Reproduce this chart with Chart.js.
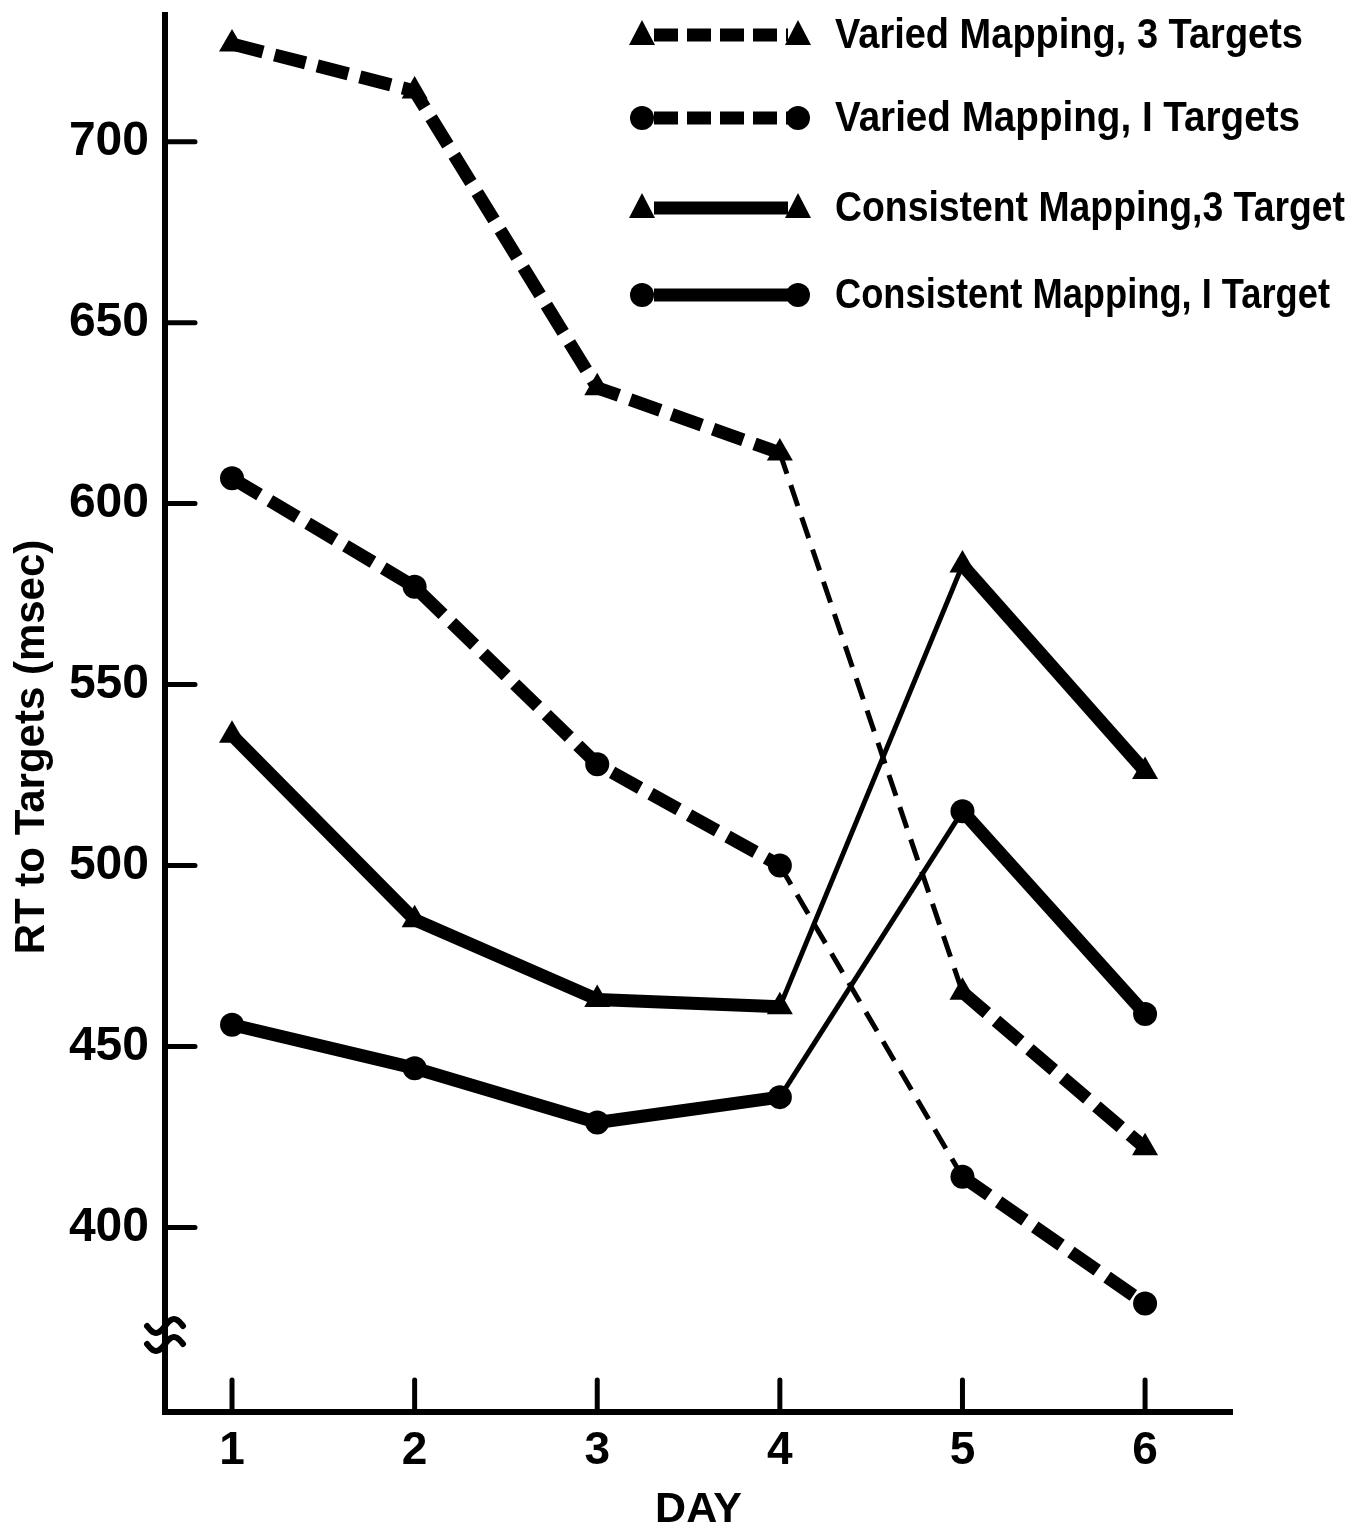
<!DOCTYPE html>
<html>
<head>
<meta charset="utf-8">
<script src="https://cdn.jsdelivr.net/npm/chart.js@4.4.1/dist/chart.umd.min.js"></script>
<style>
  html, body { margin: 0; padding: 0; background: #fff; }
  #wrap { width: 1365px; height: 1533px; }
</style>
</head>
<body>
<div id="wrap"><canvas id="rtChart"></canvas></div>
<script>
// Days on the x axis
const days = [1, 2, 3, 4, 5, 6];
const yTicks = [400, 450, 500, 550, 600, 650, 700];

// RT to targets (msec)
const variedThree = [727, 714, 632, 614, 465, 422];
const variedOne = [607, 577, 528, 500, 414, 379];
const consistentThree = [536, 485, 463, 461, 583, 526];
const consistentOne = [456, 444, 429, 436, 515, 459];

const seriesLabels = [
    "Varied Mapping, 3 Targets",
    "Varied Mapping, I Targets",
    "Consistent Mapping,3 Target",
    "Consistent Mapping, I Target",
];

const INK = "#000";
const THICK = 13;
const THIN = 5;
const FONT = "'Liberation Sans', Arial, sans-serif";

// segment between day 4 and day 5 is drawn thin
const thinSeg = (ctx) => ctx.p0DataIndex === 3;

function makeSet(label, values, dashed, shape) {
    return {
        label: label,
        data: days.map((d, i) => ({ x: d, y: values[i] })),
        borderColor: INK,
        backgroundColor: INK,
        borderWidth: THICK,
        borderDash: dashed ? [32, 12] : [],
        borderCapStyle: "butt",
        borderJoinStyle: "round",
        pointStyle: shape,
        pointRadius: shape === "triangle" ? 15 : 12,
        pointBorderWidth: 0,
        pointBackgroundColor: INK,
        tension: 0,
        fill: false,
        _dashed: dashed,
        segment: {
            borderWidth: (ctx) => (thinSeg(ctx) ? THIN : THICK),
            borderDash: (ctx) => (dashed ? (thinSeg(ctx) ? [22, 12] : [32, 12]) : []),
        },
    };
}

const datasets = [
    makeSet(seriesLabels[0], variedThree, true, "triangle"),
    makeSet(seriesLabels[1], variedOne, true, "circle"),
    makeSet(seriesLabels[2], consistentThree, false, "triangle"),
    makeSet(seriesLabels[3], consistentOne, false, "circle"),
];

// Draws inside ticks, the axis break, titles and the legend
const decorations = {
    id: "decorations",
    afterDraw(chart) {
        const { ctx, chartArea, scales } = chart;
        const x = scales.x, y = scales.y;
        ctx.save();
        ctx.strokeStyle = INK;
        ctx.fillStyle = INK;
        ctx.lineCap = "round";
        ctx.lineWidth = 5;

        // inward tick marks
        yTicks.forEach((v) => {
            const py = y.getPixelForValue(v);
            ctx.beginPath();
            ctx.moveTo(chartArea.left, py);
            ctx.lineTo(chartArea.left + 30, py);
            ctx.stroke();
        });
        days.forEach((d) => {
            const px = x.getPixelForValue(d);
            ctx.beginPath();
            ctx.moveTo(px, chartArea.bottom);
            ctx.lineTo(px, chartArea.bottom - 32);
            ctx.stroke();
        });

        // axis break squiggle
        const bx = chartArea.left;
        ctx.lineWidth = 6;
        [1326, 1344].forEach((cy) => {
            ctx.beginPath();
            for (let t = -18; t <= 18; t++) {
                const px = bx + t;
                const py = cy - 7 * Math.sin((t / 18) * Math.PI);
                if (t === -18) ctx.moveTo(px, py); else ctx.lineTo(px, py);
            }
            ctx.stroke();
        });

        // axis titles
        ctx.font = "bold 43px " + FONT;
        ctx.textAlign = "center";
        ctx.textBaseline = "middle";
        ctx.fillText("DAY", (chartArea.left + chartArea.right) / 2, 1510);
        ctx.font = "bold 42px " + FONT;
        ctx.save();
        ctx.translate(32, 747);
        ctx.rotate(-Math.PI / 2);
        ctx.fillText("RT to Targets (msec)", 0, 0);
        ctx.restore();

        // legend
        const rowsY = [35, 118, 208, 295];
        const textW = [468, 465, 510, 495];
        const x0 = 642, x1 = 798;
        chart.data.datasets.forEach((ds, i) => {
            const ly = rowsY[i];
            ctx.lineWidth = THICK;
            ctx.lineCap = "butt";
            ctx.setLineDash(ds._dashed ? [24, 9] : []);
            ctx.beginPath();
            ctx.moveTo(x0 + 12, ly);
            ctx.lineTo(x1 - 10, ly);
            ctx.stroke();
            ctx.setLineDash([]);
            [x0, x1].forEach((mx) => {
                ctx.beginPath();
                if (ds.pointStyle === "triangle") {
                    ctx.moveTo(mx, ly - 15);
                    ctx.lineTo(mx + 13, ly + 10);
                    ctx.lineTo(mx - 13, ly + 10);
                    ctx.closePath();
                } else {
                    ctx.arc(mx, ly, 12, 0, Math.PI * 2);
                }
                ctx.fill();
            });
            ctx.font = "bold 42px " + FONT;
            ctx.textAlign = "left";
            ctx.textBaseline = "middle";
            ctx.fillText(ds.label, 835, ly + 1, textW[i]);
        });
        ctx.restore();
    },
};

document.addEventListener("DOMContentLoaded", () => {
    const ctx = document.getElementById("rtChart").getContext("2d");
    new Chart(ctx, {
        type: "line",
        data: { datasets: datasets },
        options: {
            responsive: true,
            maintainAspectRatio: false,
            animation: false,
            layout: { padding: { top: 12, right: 133, left: 0, bottom: 0 } },
            scales: {
                x: {
                    type: "linear",
                    min: 0.633,
                    max: 6.476,
                    afterBuildTicks: (scale) => {
                        scale.ticks = days.map((d) => ({ value: d }));
                    },
                    afterFit: (scale) => {
                        scale.height = 121;
                        scale.paddingLeft = 0;
                        scale.paddingRight = 0;
                    },
                    grid: { display: false, drawTicks: false },
                    border: { display: true, color: INK, width: 6 },
                    ticks: {
                        color: INK,
                        padding: 12,
                        maxRotation: 0,
                        font: { family: FONT, size: 46, weight: "bold" },
                    },
                },
                y: {
                    min: 349,
                    max: 735,
                    afterBuildTicks: (scale) => {
                        scale.ticks = yTicks.map((v) => ({ value: v }));
                    },
                    afterFit: (scale) => {
                        scale.width = 165;
                        scale.paddingTop = 0;
                        scale.paddingBottom = 0;
                    },
                    grid: { display: false, drawTicks: false },
                    border: { display: true, color: INK, width: 6 },
                    ticks: {
                        color: INK,
                        padding: 16,
                        font: { family: FONT, size: 48, weight: "bold" },
                    },
                },
            },
            plugins: {
                legend: { display: false },
                tooltip: { enabled: false },
            },
        },
        plugins: [decorations],
    });
});
</script>
</body>
</html>
